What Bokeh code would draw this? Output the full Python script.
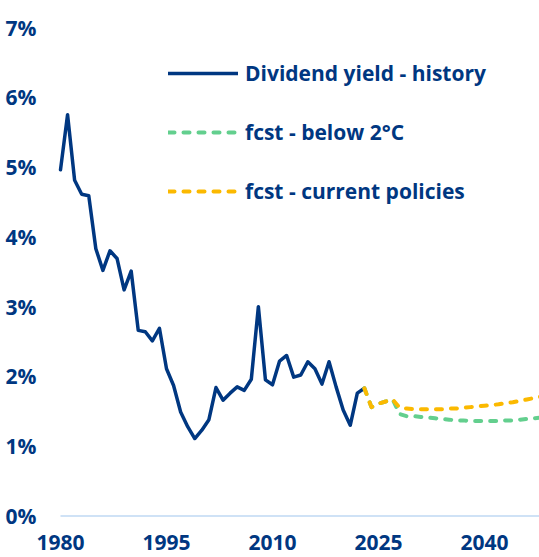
from bokeh.plotting import figure
from bokeh.models import Legend, LegendItem, Range1d
from bokeh.core.properties import value
from bokeh.embed import file_html
from bokeh.resources import INLINE

# ---- data ----
hist_years = list(range(1980, 2024))
hist_values = [4.96, 5.75, 4.81, 4.61, 4.59, 3.83, 3.52, 3.80, 3.69, 3.24,
               3.51, 2.66, 2.64, 2.51, 2.69, 2.11, 1.87, 1.49, 1.28, 1.11,
               1.23, 1.38, 1.84, 1.66, 1.76, 1.85, 1.80, 1.96, 3.00, 1.95,
               1.88, 2.22, 2.30, 1.99, 2.02, 2.21, 2.11, 1.89, 2.21, 1.85,
               1.52, 1.30, 1.76, 1.83]

fcst_years = list(range(2023, 2049))
below2_values = [1.83, 1.56, 1.61, 1.64, 1.67, 1.46, 1.43, 1.43, 1.42, 1.41,
                 1.40, 1.39, 1.38, 1.37, 1.37, 1.36, 1.36, 1.36, 1.36, 1.36,
                 1.37, 1.37, 1.38, 1.39, 1.40, 1.41]
current_values = [1.83, 1.56, 1.61, 1.64, 1.67, 1.55, 1.54, 1.53, 1.53, 1.53,
                  1.53, 1.53, 1.54, 1.54, 1.55, 1.56, 1.57, 1.58, 1.59, 1.60,
                  1.62, 1.63, 1.65, 1.67, 1.69, 1.71]

x_ticks = [1980, 1995, 2010, 2025, 2040]
x_tick_labels = ["1980", "1995", "2010", "2025", "2040"]
y_ticks = [0, 1, 2, 3, 4, 5, 6, 7]
y_tick_labels = ["0%", "1%", "2%", "3%", "4%", "5%", "6%", "7%"]

series_names = ["Dividend yield - history", "fcst - below 2°C", "fcst - current policies"]

# ---- styles ----
NAVY = "#003781"
GREEN = "#63cf8e"
YELLOW = "#fbb900"
BASE = "#cfe2f6"
FONT = "Open Sans"
FS = "21px"

X_START, X_END = 1971.51, 2047.78
Y_START, Y_END = -0.595, 7.387

p = figure(width=539, height=557, output_backend="svg", toolbar_location=None,
           x_range=Range1d(X_START, X_END), y_range=Range1d(Y_START, Y_END),
           x_axis_location=None, y_axis_location=None,
           min_border_left=0, min_border_right=0, min_border_top=0,
           min_border_bottom=0)
p.outline_line_color = None
p.xgrid.visible = False
p.ygrid.visible = False
p.background_fill_color = "white"
p.border_fill_color = "white"

# baseline at 0%, from the first year to the right edge
p.segment(x0=[x_ticks[0]], y0=[y_ticks[0]], x1=[X_END], y1=[y_ticks[0]],
          line_color=BASE, line_width=2)

r_hist = p.line(hist_years, hist_values, line_color=NAVY, line_width=3.5,
                line_join="round", line_cap="round")
r_green = p.line(fcst_years, below2_values, line_color=GREEN, line_width=4,
                 line_dash="6 9", line_cap="round", line_join="round")
r_yellow = p.line(fcst_years, current_values, line_color=YELLOW, line_width=4,
                  line_dash="6 9", line_cap="round", line_join="round")

# x tick labels under the 0% baseline
p.text(x=x_ticks, y=[y_ticks[0]] * len(x_ticks), text=x_tick_labels,
       text_font=value(FONT), text_font_size=FS, text_font_style="bold",
       text_color=NAVY, text_align="center", text_baseline="middle",
       y_offset=27)

# y tick labels left of the first year
p.text(x=[x_ticks[0]] * len(y_ticks), y=y_ticks, text=y_tick_labels,
       text_font=value(FONT), text_font_size=FS, text_font_style="bold",
       text_color=NAVY, text_align="right", text_baseline="middle",
       x_offset=-24)

legend = Legend(items=[LegendItem(label=series_names[0], renderers=[r_hist]),
                       LegendItem(label=series_names[1], renderers=[r_green]),
                       LegendItem(label=series_names[2], renderers=[r_yellow])],
                location=(168, 352), orientation="vertical",
                glyph_width=70, glyph_height=26, label_height=26,
                spacing=31, label_standoff=7, padding=0, margin=0,
                border_line_color=None, background_fill_alpha=0,
                label_text_font=FONT, label_text_font_size=FS,
                label_text_font_style="bold", label_text_color=NAVY)
p.add_layout(legend, "center")

open("out.html", "w").write(file_html(p, INLINE))
